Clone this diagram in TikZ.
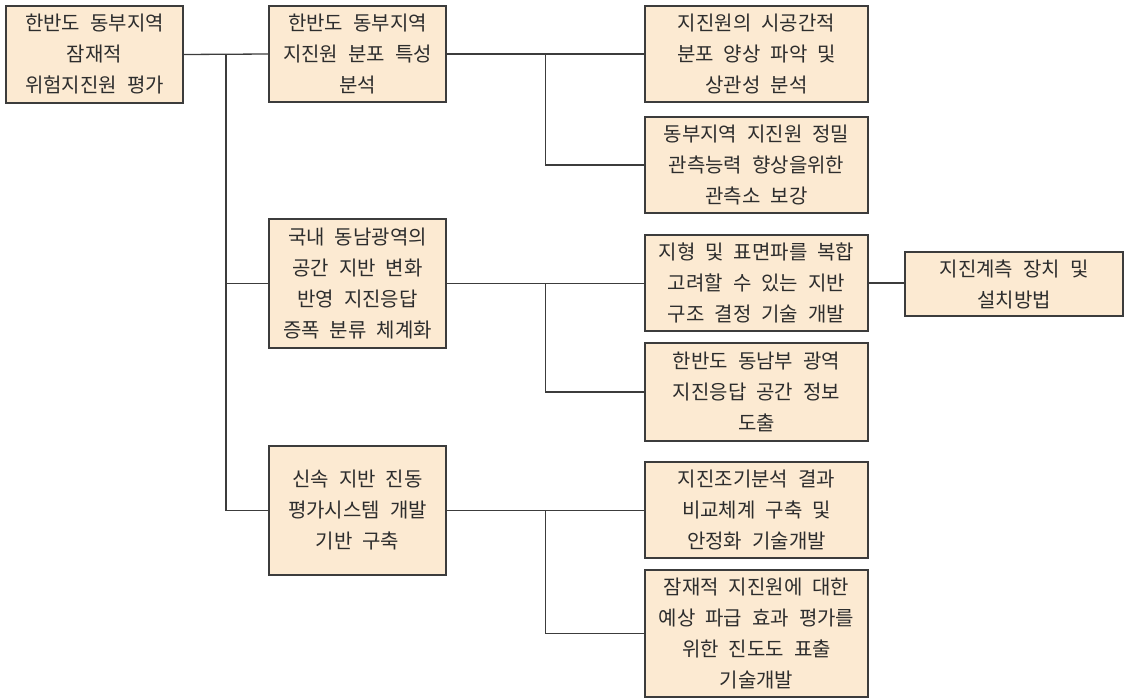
\documentclass[tikz,border=0pt]{standalone}
\usepackage{fontspec}
\setmainfont{Noto Sans CJK KR}
\definecolor{boxfill}{RGB}{252,234,210}
\definecolor{boxline}{RGB}{60,60,60}
\definecolor{textc}{RGB}{45,45,45}
\begin{document}
\begin{tikzpicture}[x=1pt,y=-1pt,
  box/.style={draw=boxline, line width=1.3pt, fill=boxfill, text=textc, align=center,
    inner sep=0pt, font={\fontsize{20}{31}\selectfont\spaceskip=0.5em\relax}},
  wide/.style={box, minimum width=223pt},
  narrow/.style={box, minimum width=177pt},
  conn/.style={draw=boxline, line width=1.3pt}]
\useasboundingbox (0,0) rectangle (1129,699);
% level 1
\node[narrow, minimum height=97pt] (A) at (94.5,54.5) {한반도 동부지역\\잠재적\\위험지진원 평가};
% level 2
\node[narrow, minimum height=96pt] (B) at (357.5,54) {한반도 동부지역\\지진원 분포 특성\\분석};
\node[narrow, minimum height=129pt] (C) at (357.5,283.5) {국내 동남광역의\\공간 지반 변화\\반영 지진응답\\증폭 분류 체계화};
\node[narrow, minimum height=129pt] (D) at (357.5,510.5) {신속 지반 진동\\평가시스템 개발\\기반 구축};
% level 3
\node[wide, minimum height=96pt] (E1) at (756.5,54) {지진원의 시공간적\\분포 양상 파악 및\\상관성 분석};
\node[wide, minimum height=96pt] (E2) at (756.5,165) {동부지역 지진원 정밀\\관측능력 향상을위한\\관측소 보강};
\node[wide, minimum height=96pt] (F1) at (756.5,283) {지형 및 표면파를 복합\\고려할 수 있는 지반\\구조 결정 기술 개발};
\node[wide, minimum height=98pt] (F2) at (756.5,392) {한반도 동남부 광역\\지진응답 공간 정보\\도출};
\node[wide, minimum height=96pt] (H1) at (756.5,510) {지진조기분석 결과\\비교체계 구축 및\\안정화 기술개발};
\node[wide, minimum height=127pt] (H2) at (756.5,633.5) {잠재적 지진원에 대한\\예상 파급 효과 평가를\\위한 진도도 표출\\기술개발};
% level 4
\node[box, minimum width=218pt, minimum height=64pt] (G) at (1014,284) {지진계측 장치 및\\설치방법};
% connectors
\draw[conn] (A.east) -- (B.west) coordinate[pos=0.5] (t1);
\draw[conn] (t1) |- (C.west);
\draw[conn] (t1) |- (D.west);
\draw[conn] (B.east) -- (E1.west) coordinate[pos=0.5] (tB);
\draw[conn] (tB) |- (E2.west);
\draw[conn] (C.east) -- (F1.west |- C.east) coordinate[pos=0.5] (tC);
\draw[conn] (tC) |- (F2.west);
\draw[conn] (F1.east) -- (G.west |- F1.east);
\draw[conn] (D.east) -- (H1.west |- D.east) coordinate[pos=0.5] (tD);
\draw[conn] (tD) |- (H2.west);
\end{tikzpicture}
\end{document}
